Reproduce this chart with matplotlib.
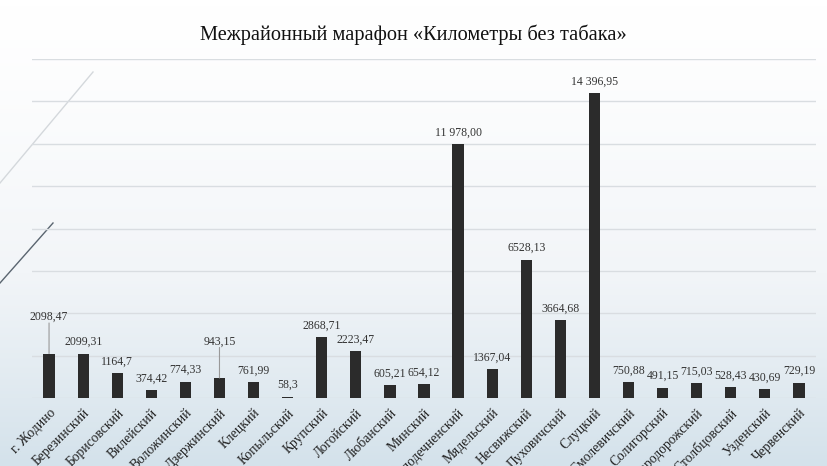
import numpy as np
import matplotlib
matplotlib.use("Agg")
import matplotlib.pyplot as plt
from matplotlib.colors import LinearSegmentedColormap

districts = ["г. Жодино", "Березинский", "Борисовский", "Вилейский", "Воложинский",
             "Дзержинский", "Клецкий", "Копыльский", "Крупский", "Логойский",
             "Любанский", "Минский", "Молодечненский", "Мядельский", "Несвижский",
             "Пуховичский", "Слуцкий", "Смолевичский", "Солигорский", "Стародорожский",
             "Столбцовский", "Узденский", "Червенский"]
km = [2098.47, 2099.31, 1164.7, 374.42, 774.33, 943.15, 761.99, 58.3, 2868.71, 2223.47,
      605.21, 654.12, 11978.00, 1367.04, 6528.13, 3664.68, 14396.95, 750.88, 491.15,
      715.03, 528.43, 430.69, 729.19]
value_labels = ["2098,47", "2099,31", "1164,7", "374,42", "774,33", "943,15", "761,99",
                "58,3", "2868,71", "2223,47", "605,21", "654,12", "11 978,00", "1367,04",
                "6528,13", "3664,68", "14 396,95", "750,88", "491,15", "715,03", "528,43",
                "430,69", "729,19"]
# labels lifted with leader line (extra offset in points)
lifted = {"2098,47": 18, "943,15": 18}

W, H = 828, 466
fig = plt.figure(figsize=(W / 100, H / 100), dpi=100)

# background gradient
bg = fig.add_axes([0, 0, 1, 1], zorder=0)
cmap = LinearSegmentedColormap.from_list("bg", ["#ffffff", "#f2f5f8", "#d4e2eb"])
grad = np.linspace(0, 1, 256).reshape(-1, 1) ** 1.3
bg.imshow(grad, aspect="auto", cmap=cmap, extent=[0, 1, 0, 1], origin="upper")
bg.set_xlim(0, 1)
bg.set_ylim(0, 1)
bg.axis("off")
# decorative diagonal lines
bg.plot([0 / W, 93 / W], [1 - 183 / H, 1 - 72 / H], color="#d4d8dc", lw=1.0)
bg.plot([0 / W, 53 / W], [1 - 283 / H, 1 - 223 / H], color="#5a6570", lw=1.0)

serif = ["Liberation Serif", "DejaVu Serif"]

# plot area: x 32..816 px, baseline at y=398, top gridline (16000) at y=59
left, right = 32 / W, 816 / W
bottom = 1 - 398 / H
top_val = 16000
top_px = 59
ax = fig.add_axes([left, bottom, right - left, (398 - top_px) / H], zorder=1)
ax.patch.set_alpha(0)

x = np.arange(len(districts))
ax.bar(x, km, width=0.33, color="#2b2b2b", zorder=3)
ax.set_xlim(-0.5, len(districts) - 0.5)
ax.set_ylim(0, top_val)
ax.set_yticks(np.arange(0, top_val + 1, 2000))
ax.yaxis.grid(True, color="#d9dde1", lw=1.0, zorder=0)
ax.tick_params(axis="y", left=False, labelleft=False)
ax.tick_params(axis="x", length=0, pad=6)
for s in ax.spines.values():
    s.set_visible(False)
ax.set_xticks(x)
ax.set_xticklabels(districts, rotation=45, ha="right", va="top",
                   rotation_mode="anchor", family=serif, fontsize=9.8, color="#222222")

for xi, v, lab in zip(x, km, value_labels):
    extra = lifted.get(lab, 0)
    ax.annotate(lab, (xi, v), xytext=(0, 4 + extra), textcoords="offset points",
                ha="center", va="bottom", family=serif, fontsize=8.5, color="#333333",
                zorder=4)
    if extra:
        ax.annotate("", (xi, v), xytext=(0, 4 + extra), textcoords="offset points",
                    arrowprops=dict(arrowstyle="-", color="#999999", lw=0.8,
                                    shrinkA=0, shrinkB=0), zorder=4)

fig.text(413 / W, 1 - 35 / H, "Межрайонный марафон «Километры без табака»",
         ha="center", va="center", family=serif, fontsize=14.7, color="#111111")

fig.savefig("out.png", dpi=100)
